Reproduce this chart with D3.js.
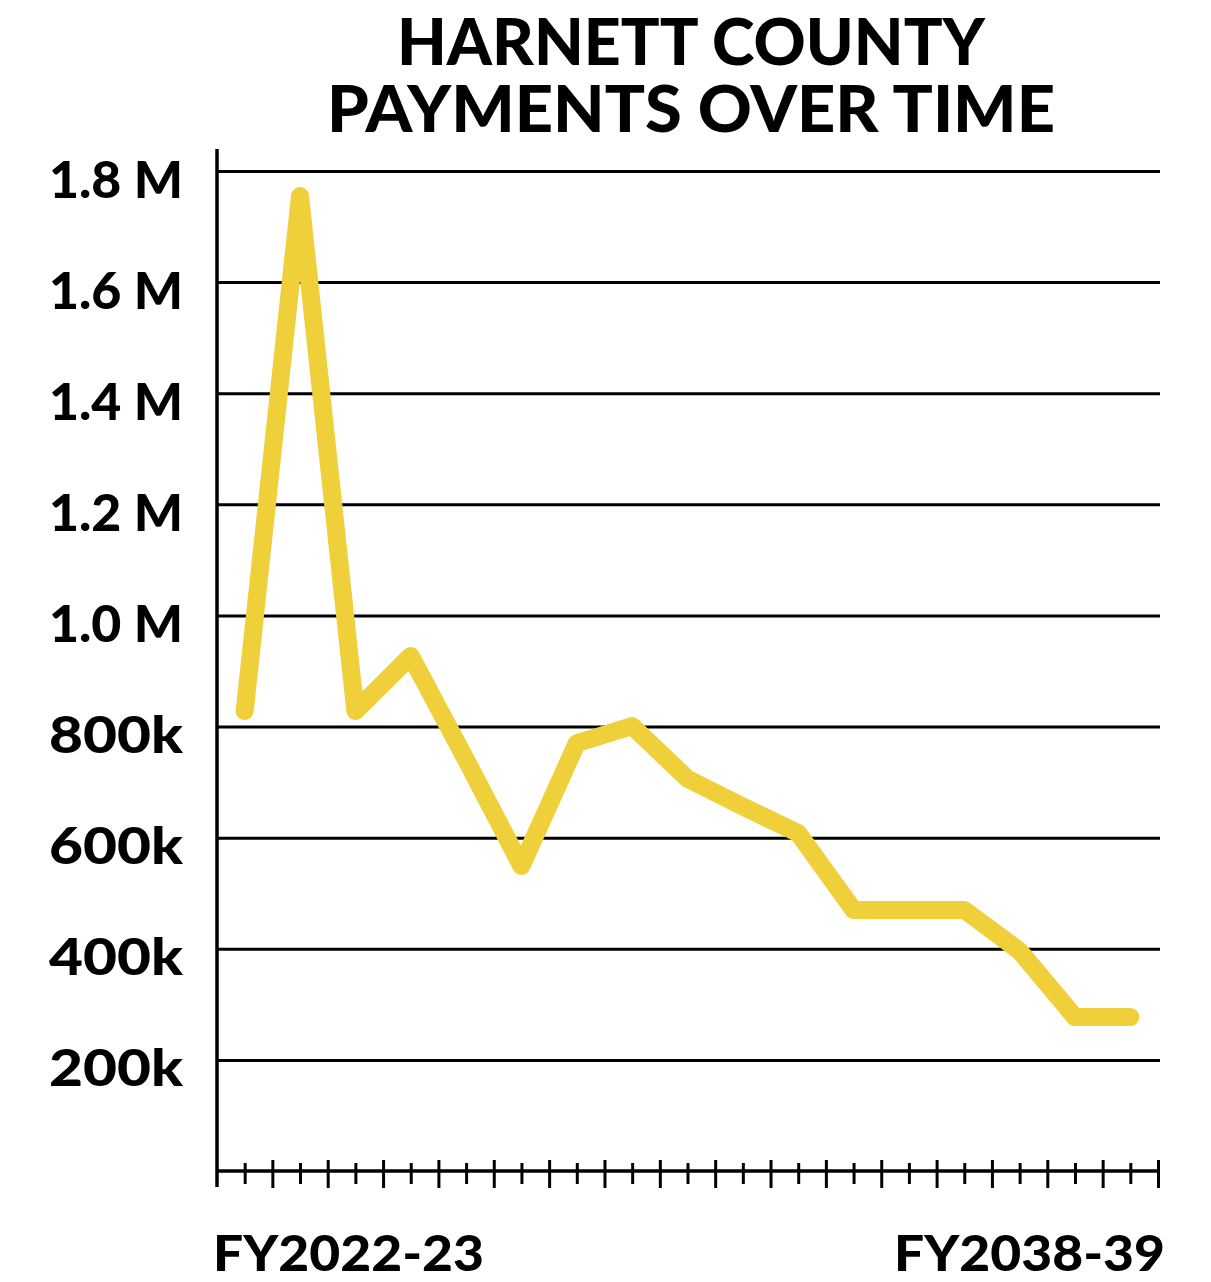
<!DOCTYPE html>
<html>
<head>
<meta charset="utf-8">
<script src="https://cdn.jsdelivr.net/npm/d3@7"></script>
<style>
  body { margin: 0; background: #fff; }
  svg { display: block; }
</style>
</head>
<body>
<script>
// fiscal years, first to last
var years = ["FY2022-23", "FY2023-24", "FY2024-25", "FY2025-26", "FY2026-27", "FY2027-28",
  "FY2028-29", "FY2029-30", "FY2030-31", "FY2031-32", "FY2032-33", "FY2033-34",
  "FY2034-35", "FY2035-36", "FY2036-37", "FY2037-38", "FY2038-39"]

// payments
var payments = [828000, 1755000, 828000, 927000, 740000, 549000, 770000, 801000,
  706000, 656000, 608000, 470000, 470000, 470000, 396000, 277000, 277000]

var yTicks = [200000, 400000, 600000, 800000, 1000000, 1200000, 1400000, 1600000, 1800000]
var xLabels = ["FY2022-23", "FY2038-39"]
var titleLines = ["HARNETT COUNTY", "PAYMENTS OVER TIME"]

var width = 1211
var height = 1282
var font = "Lato, 'Open Sans', sans-serif"

var svg = d3.select("body")
  .append("svg")
  .attr("width", width)
  .attr("height", height)

var x = d3.scaleLinear()
  .domain([-0.5, years.length - 0.5])
  .range([217, 1158])

var y = d3.scaleLinear()
  .domain([0, 1800000])
  .range([1171, 171])

// title, one text with a tspan per line
var title = svg.append("text")
  .attr("text-anchor", "middle")
  .style("font-family", font)
  .style("font-weight", 900)
  .style("font-size", "64px")

title.selectAll("tspan")
  .data(titleLines)
  .enter().append("tspan")
  .attr("x", 691)
  .attr("y", function (d, i) { return 65 + i * 67 })
  .attr("textLength", function (d, i) { return i == 0 ? 588 : 728 })
  .attr("lengthAdjust", "spacingAndGlyphs")
  .text(function (d) { return d })

// y axis with gridlines
var fmt = function (d) {
  return d >= 1000000 ? d3.format(".1f")(d / 1000000) + " M" : (d / 1000) + "k"
}

var ejeY = d3.axisLeft(y)
  .tickValues(yTicks)
  .tickSize(-(1160 - 217))
  .tickPadding(34)
  .tickFormat(fmt)

var gy = svg.append("g")
  .attr("transform", "translate(217,0)")
  .call(ejeY)

gy.select(".domain").remove()
gy.selectAll(".tick line")
  .attr("stroke", "#000")
  .attr("stroke-width", 3)
gy.selectAll(".tick text")
  .attr("dy", null)
  .attr("y", 26)
  .attr("textLength", 134)
  .attr("lengthAdjust", "spacingAndGlyphs")
  .attr("fill", "#000")
  .style("font-family", font)
  .style("font-weight", 900)
  .style("font-size", "52px")

// x axis: short ticks on each year, tall ticks between
var ejeX = d3.axisBottom(x)
  .tickValues(d3.range(years.length))
  .tickSize(13)
  .tickFormat("")

var gx = svg.append("g")
  .attr("transform", "translate(0,1171)")
  .call(ejeX)

gx.select(".domain").remove()
gx.selectAll(".tick line")
  .attr("y1", -8)
  .attr("stroke", "#000")
  .attr("stroke-width", 3)

var ejeX2 = d3.axisBottom(x)
  .tickValues(d3.range(years.length).map(function (i) { return i + 0.5 }))
  .tickSize(17)
  .tickFormat("")

var gx2 = svg.append("g")
  .attr("transform", "translate(0,1171)")
  .call(ejeX2)

gx2.select(".domain").remove()
gx2.selectAll(".tick line")
  .attr("y1", -11)
  .attr("stroke", "#000")
  .attr("stroke-width", 3)

// axis lines
svg.append("line")
  .attr("x1", 217).attr("x2", x(years.length - 0.5))
  .attr("y1", y(0)).attr("y2", y(0))
  .attr("stroke", "#000")
  .attr("stroke-width", 3.5)

svg.append("line")
  .attr("x1", 217).attr("x2", 217)
  .attr("y1", 149).attr("y2", 1187)
  .attr("stroke", "#000")
  .attr("stroke-width", 3.5)

// first and last year labels
svg.selectAll(".xlab")
  .data(xLabels)
  .enter().append("text")
  .attr("class", "xlab")
  .attr("x", function (d, i) { return i == 0 ? 213 : 1165 })
  .attr("y", 1271)
  .attr("text-anchor", function (d, i) { return i == 0 ? "start" : "end" })
  .attr("textLength", 271)
  .attr("lengthAdjust", "spacingAndGlyphs")
  .style("font-family", font)
  .style("font-weight", 900)
  .style("font-size", "49px")
  .text(function (d) { return d })

// the line
var lineGenerator = d3.line()
  .x(function (d, i) { return x(i) })
  .y(function (d) { return y(d) })

svg.append("path")
  .attr("d", lineGenerator(payments))
  .attr("stroke", "#efcf3a")
  .attr("stroke-width", 18)
  .attr("stroke-linejoin", "round")
  .attr("stroke-linecap", "round")
  .attr("fill", "none")
</script>
</body>
</html>
